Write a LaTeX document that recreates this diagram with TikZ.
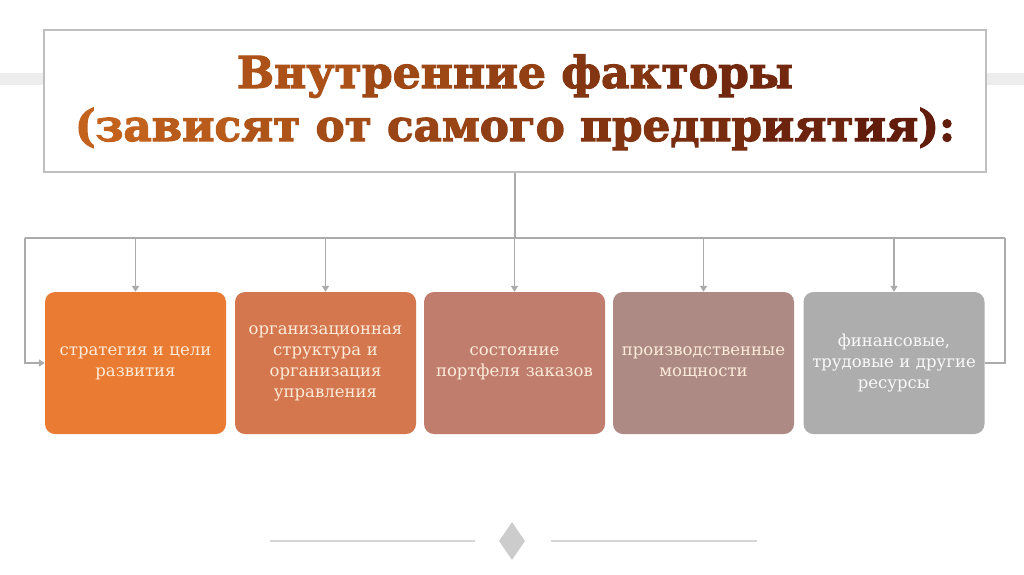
\documentclass[tikz,border=0pt]{standalone}
\usepackage{fontspec}
\setmainfont{DejaVu Serif}
\newfontfamily\titlefont{DejaVu Serif}[BoldFeatures={FakeBold=2.5}]
\usetikzlibrary{arrows.meta,shapes.geometric}
\definecolor{tOr}{HTML}{C8661E}
\definecolor{tBr}{HTML}{5A170A}
\definecolor{lineG}{HTML}{ABABAB}
\definecolor{frameG}{HTML}{BFBFBF}
\definecolor{bandG}{HTML}{EDEDED}
\definecolor{cA}{HTML}{E97B33}
\definecolor{cB}{HTML}{D4774F}
\definecolor{cC}{HTML}{C07C6C}
\definecolor{cD}{HTML}{AD8A83}
\definecolor{cE}{HTML}{ADADAD}
\definecolor{txtCream}{HTML}{FCEBD9}
\definecolor{ornG}{HTML}{D6D6D6}
\definecolor{diaG}{HTML}{CCCCCC}
\newcommand{\gc}[2]{{\color{tOr!#1!tBr}#2}}
\tikzset{
  factor/.style={rectangle, rounded corners=10pt, minimum width=181pt, minimum height=142pt,
    inner sep=0pt, text width=178pt, align=center, text=txtCream,
    font=\fontsize{16.5}{21}\selectfont},
  conn/.style={draw=lineG, line width=1.8pt},
  arr/.style={conn, -{Triangle[width=7pt,length=6pt]}},
  titleline/.style={inner sep=0pt, anchor=base, font=\titlefont\bfseries}
}
\begin{document}
\begin{tikzpicture}[x=1pt,y=-1pt]
\useasboundingbox (0,0) rectangle (1024,574);
\fill[white] (0,0) rectangle (1024,574);
% background band
\fill[bandG] (0,73) rectangle (1024,85);
% title box
\node[draw=frameG, line width=1.8pt, fill=white, minimum width=942pt, minimum height=142pt,
  inner sep=0pt] (title) at (515,101) {};
\node[titleline] (t1) at (515,88) {\resizebox{556pt}{!}{\gc{75}{Внут}\gc{62}{рен}\gc{52}{ние} \gc{38}{фак}\gc{29}{то}\gc{22}{ры}}};
\node[titleline] (t2) at (515,141) {\resizebox{880pt}{!}{\gc{95}{(за}\gc{86}{вис}\gc{77}{ят} \gc{67}{от} \gc{58}{сам}\gc{48}{ого} \gc{36}{пре}\gc{27}{дпр}\gc{17}{ият}\gc{6}{ия):}}};
% factor boxes
\node[factor, fill=cA] (b1) at (135.5,363) {стратегия и цели\\развития};
\node[factor, fill=cB] (b2) at (325.5,363) {организационная\\структура и\\организация\\управления};
\node[factor, fill=cC] (b3) at (514.5,363) {состояние\\портфеля заказов};
\node[factor, fill=cD] (b4) at (703.5,363) {производственные\\мощности};
\node[factor, fill=cE, text=white!95!gray] (b5) at (894,363) {финансовые,\\трудовые и другие\\ресурсы};
% bus
\coordinate (busL) at (25,238);
\coordinate (busR) at (1005,238);
\coordinate (busM) at (title.south |- busL);
\draw[conn] (title.south) -- (busM);
\draw[conn] (busL) -- (busR);
\foreach \b in {b1,b2,b3,b4,b5}{
  \draw[arr] (\b.north |- busL) -- (\b.north);
}
\draw[arr] (busL) -- (busL |- b1.west) -- (b1.west);
\draw[conn] (busR) -- (busR |- b5.east) -- (b5.east);
% ornament
\coordinate (oL1) at (270,541);
\coordinate (oL2) at (475,541);
\coordinate (oR1) at (551,541);
\coordinate (oR2) at (757,541);
\draw[draw=ornG, line width=1.5pt] (oL1) -- (oL2);
\draw[draw=ornG, line width=1.5pt] (oR1) -- (oR2);
\node[diamond, fill=diaG, minimum width=26pt, minimum height=38pt, inner sep=0pt] (dia) at (512,541) {};
\end{tikzpicture}
\end{document}
